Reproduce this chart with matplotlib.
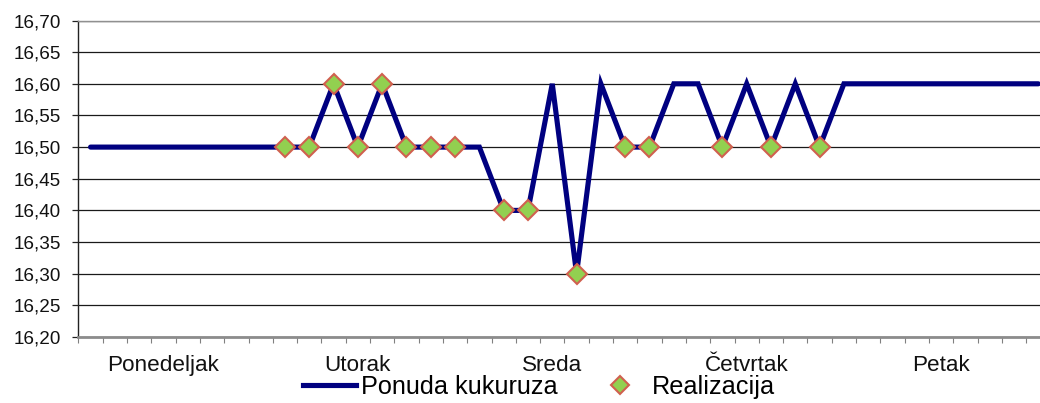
import numpy as np
import matplotlib
matplotlib.use("Agg")
import matplotlib.pyplot as plt
from matplotlib.lines import Line2D
from matplotlib.ticker import FixedLocator, FuncFormatter

plt.rcParams['font.family'] = ['Liberation Sans', 'DejaVu Sans']

# ---- data ----
ponuda = [16.50, 16.50, 16.50, 16.50, 16.50, 16.50, 16.50, 16.50,
          16.50, 16.50, 16.60, 16.50, 16.60, 16.50, 16.50, 16.50,
          16.50, 16.40, 16.40, 16.60, 16.30, 16.60, 16.50, 16.50,
          16.60, 16.60, 16.50, 16.60, 16.50, 16.60, 16.50, 16.60,
          16.60, 16.60, 16.60, 16.60, 16.60, 16.60, 16.60, 16.60]
realizacija_idx = [8, 9, 10, 11, 12, 13, 14, 15, 17, 18, 20, 22, 23, 26, 28, 30]
realizacija_val = [16.50, 16.50, 16.60, 16.50, 16.60, 16.50, 16.50, 16.50,
                   16.40, 16.40, 16.30, 16.50, 16.50, 16.50, 16.50, 16.50]
days = ['Ponedeljak', 'Utorak', 'Sreda', 'Četvrtak', 'Petak']
day_pos = [3, 11, 19, 27, 35]
y_ticks = [16.20, 16.25, 16.30, 16.35, 16.40, 16.45, 16.50, 16.55, 16.60, 16.65, 16.70]

W, H = 1040, 403
fig = plt.figure(figsize=(W / 100, H / 100), dpi=100)
ax = fig.add_axes([78.4 / W, 1 - 337 / H, 1 - 78.4 / W, (337 - 20.5) / H])

x = np.arange(len(ponuda))
ax.plot(x, ponuda, color='#000080', lw=3.7, solid_capstyle='round',
        solid_joinstyle='miter', zorder=3)
ax.plot(realizacija_idx, realizacija_val, linestyle='none', marker='D',
        markersize=10.5, markerfacecolor='#92D050', markeredgecolor='#D0604F',
        markeredgewidth=1.5, zorder=4)

ax.yaxis.set_major_locator(FixedLocator(y_ticks))
ax.yaxis.set_major_formatter(FuncFormatter(lambda v, p: f"{v:.2f}".replace('.', ',')))
ax.grid(axis='y', color='#1a1a1a', lw=0.9, zorder=1)
ax.set_axisbelow(True)

ax.set_xticks([])
ax.set_xticks(np.arange(-0.5, 40, 1), minor=True)
ax.tick_params(axis='x', which='minor', direction='out', length=4.5,
               width=0.8, color='#808080', labelbottom=False)
ax.tick_params(axis='y', direction='out', length=4.5, width=0.9,
               color='#222222', pad=8.0, labelsize=13.6, labelcolor='#111111')

ax.set_xlim(-0.5, 39.07)
ax.set_ylim(16.20, 16.70)

ax.spines['right'].set_visible(False)
ax.spines['top'].set_color('#909090')
ax.spines['top'].set_linewidth(1.0)
ax.spines['bottom'].set_color('#8c8c8c')
ax.spines['bottom'].set_linewidth(2.0)
ax.spines['left'].set_color('#222222')
ax.spines['left'].set_linewidth(1.0)

tr = ax.get_xaxis_transform()
for d, p in zip(days, day_pos):
    ax.text(p, (337 - 370.7) / (337 - 20.5), d, transform=tr, ha='center',
            va='baseline', fontsize=16.2, color='#111111')

handles = [Line2D([], [], color='#000080', lw=3.7),
           Line2D([], [], linestyle='none', marker='D', markersize=9.5,
                  markerfacecolor='#92D050', markeredgecolor='#D0604F',
                  markeredgewidth=1.5)]
fig.legend(handles, ['Ponuda kukuruza', 'Realizacija'], loc='center',
           bbox_to_anchor=(539 / W, 1 - 387 / H), ncol=2, frameon=False,
           fontsize=18.2, handlelength=2.1, handletextpad=0.2,
           columnspacing=1.4, borderpad=0, borderaxespad=0)

fig.savefig('out.png', dpi=100)
